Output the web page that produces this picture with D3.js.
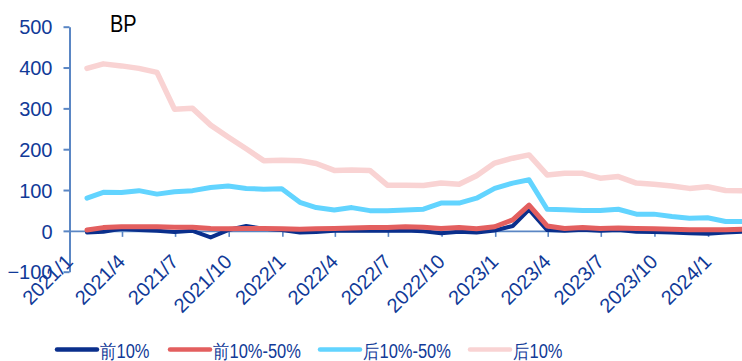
<!DOCTYPE html>
<html>
<head>
<meta charset="utf-8">
<script src="https://cdn.jsdelivr.net/npm/d3@7"></script>
<style>
  html, body { margin: 0; padding: 0; background: #fff; }
  svg { display: block; font-family: "Liberation Sans", Arial, sans-serif; }
</style>
</head>
<body>
<svg id="chart" width="742" height="361"></svg>
<script>
// ---- data (month-end observations) ----
const months = [
  "2021/1","2021/2","2021/3","2021/4","2021/5","2021/6","2021/7","2021/8","2021/9","2021/10","2021/11","2021/12",
  "2022/1","2022/2","2022/3","2022/4","2022/5","2022/6","2022/7","2022/8","2022/9","2022/10","2022/11","2022/12",
  "2023/1","2023/2","2023/3","2023/4","2023/5","2023/6","2023/7","2023/8","2023/9","2023/10","2023/11","2023/12",
  "2024/1","2024/2"
];
const top10 = [
  -4,-2,5,2,0,-3,0,-16,2,12,5,2,
  -4,-3,0,0,0,0,1,-1,-6,-2,-4,1,
  12,52,2,0,3,0,2,-2,-3,-4,-6,-7,
  -4,-2
];
const top10to50 = [
  2,8,10,10,10,9,9,6,5,6,6,5,
  4,5,6,7,8,8,10,9,6,8,5,10,
  27,63,12,6,8,6,7,6,5,4,3,3,
  3,4
];
const bottom10to50 = [
  80,94.5,94,98.5,90,96,98.5,106,110,104,102,103,
  70,57,51,57,49.5,49.5,51,53,68,68,80,104,
  117,125,53,52,50,50,53,41,41,35,31,32,
  23,23
];
const bottom10 = [
  398,409,404,398,388,298,300,259,230,201,172,173,
  172,165,148,149,148,112,112,111,117,114,135,166,
  178,186,137,141,141,129,133,117,114,110,104,108,
  99,98
];
const seriesNames = ["前10%", "前10%-50%", "后10%-50%", "后10%"];
const yTicks = [-100, 0, 100, 200, 300, 400, 500];
const xTickLabels = ["2021/1","2021/4","2021/7","2021/10","2022/1","2022/4","2022/7","2022/10","2023/1","2023/4","2023/7","2023/10","2024/1"];
const title = "BP";

// ---- styling ----
const colors = ["#0A2F8C", "#E35F5F", "#62D4FF", "#F9D3D3"];
const widths = [4, 5, 5, 5.5];
const axisColor = "#5A86C4";
const textColor = "#113A98";

const svg = d3.select("#chart");

const parseMonthEnd = s => { const [yy, mm] = s.split("/").map(Number); return new Date(yy, mm, 0); };
const parseMonthStart = s => { const [yy, mm] = s.split("/").map(Number); return new Date(yy, mm - 1, 1); };
const dates = months.map(parseMonthEnd);

const x = d3.scaleTime()
  .domain([new Date(2021, 0, 1), new Date(2024, 1, 29)])
  .range([69.5, 742.5]);
const y = d3.scaleLinear().domain([-100, 500]).range([271.7, 26.7]);

// y axis
const yAxis = d3.axisLeft(y).tickValues(yTicks).tickSize(6).tickSizeOuter(0).tickPadding(11);
const gy = svg.append("g").attr("transform", "translate(69.5,0)").call(yAxis);
gy.select(".domain").attr("stroke", axisColor).attr("stroke-width", 2);
gy.selectAll(".tick line").attr("stroke", axisColor).attr("stroke-width", 2);
gy.selectAll(".tick text").attr("fill", textColor).style("font-size", "20px").attr("dy", "0.36em");

// x axis on the zero line
const xAxis = d3.axisBottom(x)
  .tickValues(xTickLabels.map(parseMonthStart))
  .tickFormat(d => `${d.getFullYear()}/${d.getMonth() + 1}`)
  .tickSize(6).tickSizeOuter(0);
const gx = svg.append("g").attr("transform", `translate(0,${y(0)})`).call(xAxis);
gx.select(".domain").attr("stroke", axisColor).attr("stroke-width", 1.6);
gx.selectAll(".tick line").attr("stroke", axisColor).attr("stroke-width", 1.6);
gx.selectAll(".tick text")
  .attr("fill", textColor).style("font-size", "20px")
  .attr("x", 0).attr("y", 0).attr("dy", 0)
  .attr("text-anchor", "end")
  .attr("transform", "translate(4,32) rotate(-45)");

// lines
const allSeries = [top10, top10to50, bottom10to50, bottom10];
const line = d3.line().x((d, i) => x(dates[i])).y(d => y(d));
const gl = svg.append("g");
allSeries.forEach((vals, k) => {
  gl.append("path")
    .datum(vals)
    .attr("d", line)
    .attr("fill", "none")
    .attr("stroke", colors[k])
    .attr("stroke-width", widths[k])
    .attr("stroke-linejoin", "round")
    .attr("stroke-linecap", "round");
});

// title
svg.append("text")
  .attr("transform", "translate(110,31.5) scale(1,1.15)")
  .attr("fill", "#000").style("font-size", "20px").text(title);

// legend
const legX = [57, 170, 320, 470];
const leg = svg.append("g");
seriesNames.forEach((name, k) => {
  leg.append("line")
    .attr("x1", legX[k]).attr("x2", legX[k] + 40)
    .attr("y1", 349.5).attr("y2", 349.5)
    .attr("stroke", colors[k]).attr("stroke-width", 4.5)
    .attr("stroke-linecap", "round");
  leg.append("text")
    .attr("transform", `translate(${legX[k] + 43},358) scale(1,1.18)`)
    .attr("fill", textColor).style("font-size", "16.5px")
    .text(name);
});
</script>
</body>
</html>
